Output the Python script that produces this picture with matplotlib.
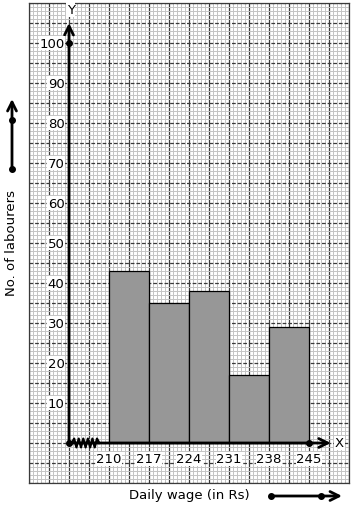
import matplotlib
matplotlib.use("Agg")
import matplotlib.pyplot as plt
import numpy as np
from matplotlib.ticker import MultipleLocator

# ---- data ----
class_edges = [210, 217, 224, 231, 238, 245]
labourers = [43, 35, 38, 17, 29]
y_ticks = [10, 20, 30, 40, 50, 60, 70, 80, 90, 100]
x_ticks = class_edges
x_label = "Daily wage (in Rs)"
y_label = "No. of labourers"

W, H = 354, 510
fig = plt.figure(figsize=(W / 100, H / 100), dpi=100)
fig.patch.set_facecolor("white")

# grid panel in pixels
gl, gr, gt, gb = 29, 349, 4, 484
ax = fig.add_axes([gl / W, (H - gb) / H, (gr - gl) / W, (gb - gt) / H])
ax.set_xlim(196, 252)
ax.set_ylim(-10, 110)
ax.set_facecolor("white")

ax.xaxis.set_major_locator(MultipleLocator(3.5))
ax.xaxis.set_minor_locator(MultipleLocator(0.7))
ax.yaxis.set_major_locator(MultipleLocator(5))
ax.yaxis.set_minor_locator(MultipleLocator(1))
ax.tick_params(which="both", length=0, labelbottom=False, labelleft=False)
ax.set_axisbelow(True)
ax.grid(True, which="minor", color="#c4c4c4", lw=0.7)
ax.xaxis.grid(True, which="major", color="#3a3a3a", lw=0.9, ls="-")
ax.yaxis.grid(True, which="major", color="#3a3a3a", lw=0.9, ls=(0, (3, 1.5)))
for s in ax.spines.values():
    s.set_color("#3a3a3a")
    s.set_linewidth(0.9)

# bars
widths = np.diff(class_edges)
ax.bar(class_edges[:-1], labourers, width=widths, align="edge",
       color="#979797", edgecolor="black", lw=0.9, zorder=3)

origin_x = 203
# axes with arrows
ax.annotate("", xy=(origin_x, 105), xytext=(origin_x, 0),
            arrowprops=dict(arrowstyle="->", lw=2, color="black", mutation_scale=16,
                            shrinkA=0, shrinkB=0), zorder=5)
ax.annotate("", xy=(248.8, 0), xytext=(origin_x, 0),
            arrowprops=dict(arrowstyle="->", lw=2, color="black", mutation_scale=16,
                            shrinkA=0, shrinkB=0), zorder=5)
ax.text(origin_x + 0.3, 108.4, "Y", ha="center", va="center", fontsize=9.5,
        bbox=dict(facecolor="white", edgecolor="none", pad=0.5), zorder=6)
ax.text(250.3, 0, "X", ha="center", va="center", fontsize=9.5,
        bbox=dict(facecolor="white", edgecolor="none", pad=0.5), zorder=6)

# kink (break) between origin and first class
zx = np.linspace(origin_x + 0.5, class_edges[0] - 1.7, 13)
zy = np.array([0 if i in (0, 12) else (1.1 if i % 2 else -1.1) for i in range(13)])
ax.plot(zx, zy, color="black", lw=1.6, zorder=6)

# dots
ax.plot([origin_x, origin_x, class_edges[-1]], [0, 100, 0], "o", color="black",
        ms=4, zorder=7)

# tick labels
for v in y_ticks:
    ax.text(202.2, v, str(v), ha="right", va="center", fontsize=9.5,
            bbox=dict(facecolor="white", edgecolor="none", pad=0.3), zorder=6)
for v in x_ticks:
    ax.text(v, -4, str(v), ha="center", va="center", fontsize=9.5,
            bbox=dict(facecolor="white", edgecolor="none", pad=0.3), zorder=6)

# outer labels
fig.text(12 / W, 1 - 243 / H, y_label, rotation=90, ha="center", va="center", fontsize=9.5)
fig.text(189 / W, 1 - 496 / H, x_label, ha="center", va="center", fontsize=9.5)

# decorative arrows outside
ax2 = fig.add_axes([0, 0, 1, 1], facecolor="none")
ax2.set_xlim(0, W)
ax2.set_ylim(H, 0)
ax2.axis("off")
ax2.annotate("", xy=(12, 100), xytext=(12, 170),
             arrowprops=dict(arrowstyle="->", lw=2, color="black", mutation_scale=16,
                             shrinkA=0, shrinkB=0))
ax2.plot([12, 12], [121, 170], "o", color="black", ms=4)
ax2.annotate("", xy=(342, 497), xytext=(271, 497),
             arrowprops=dict(arrowstyle="->", lw=2, color="black", mutation_scale=16,
                             shrinkA=0, shrinkB=0))
ax2.plot([271, 321], [497, 497], "o", color="black", ms=4)

fig.savefig("out.png", dpi=100, facecolor="white")
